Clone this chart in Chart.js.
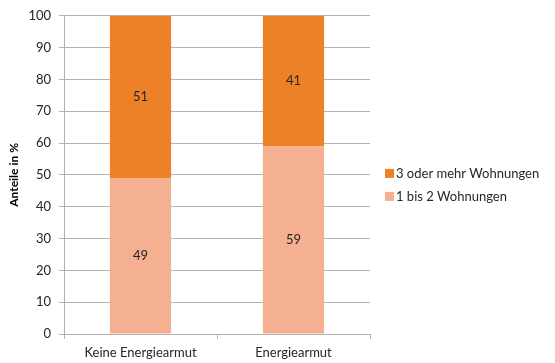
<!DOCTYPE html>
<html>
<head>
<meta charset="utf-8">
<script src="https://cdn.jsdelivr.net/npm/chart.js@4/dist/chart.umd.min.js"></script>
<style>
  html, body { margin: 0; padding: 0; background: #fff; }
  #wrap { width: 555px; height: 363px; }
</style>
</head>
<body>
<div id="wrap"><canvas id="chart" width="555" height="363"></canvas></div>
<script>
// data
const categories = ["Keine Energiearmut", "Energiearmut"];
const smallHouses = [49, 59];   // 1 bis 2 Wohnungen
const bigHouses = [51, 41];     // 3 oder mehr Wohnungen
const yTicks = [0, 10, 20, 30, 40, 50, 60, 70, 80, 90, 100];

const FONT = "Lato, 'Open Sans', sans-serif";
const gridColor = "#b3b3b3";
const textColor = "#262626";

// write the value in the middle of each bar segment
const valueLabels = {
  id: "valueLabels",
  afterDatasetsDraw(chart) {
    const ctx = chart.ctx;
    ctx.save();
    ctx.font = "13px " + FONT;
    ctx.fillStyle = textColor;
    ctx.textAlign = "center";
    ctx.textBaseline = "middle";
    chart.data.datasets.forEach((ds, i) => {
      chart.getDatasetMeta(i).data.forEach((bar, j) => {
        ctx.fillText(ds.data[j], bar.x, (bar.y + bar.base) / 2);
      });
    });
    ctx.restore();
  }
};

// legend on the right, top series first, like the office chart
const sideLegend = {
  id: "sideLegend",
  afterDraw(chart) {
    const ctx = chart.ctx;
    const area = chart.chartArea;
    const x = area.right + 15;
    let y = (area.top + area.bottom) / 2 - 1;
    ctx.save();
    ctx.font = "13px " + FONT;
    ctx.textBaseline = "middle";
    ctx.textAlign = "left";
    chart.data.datasets.slice().reverse().forEach(ds => {
      ctx.fillStyle = ds.backgroundColor;
      ctx.fillRect(x, y - 5, 9, 9);
      ctx.fillStyle = textColor;
      ctx.fillText(ds.label, x + 11, y);
      y += 23;
    });
    ctx.restore();
  }
};

new Chart(document.getElementById("chart"), {
  type: "bar",
  data: {
    labels: categories,
    datasets: [
      { label: "1 bis 2 Wohnungen", data: smallHouses, backgroundColor: "#f4b090" },
      { label: "3 oder mehr Wohnungen", data: bigHouses, backgroundColor: "#ed8128" }
    ]
  },
  options: {
    responsive: false,
    animation: false,
    layout: { padding: { top: 13, right: 185, bottom: 0, left: 7 } },
    datasets: { bar: { categoryPercentage: 0.4, barPercentage: 1 } },
    plugins: {
      legend: { display: false },
      tooltip: { enabled: false }
    },
    scales: {
      x: {
        stacked: true,
        afterFit(axis) { axis.height = 29; },
        grid: { display: true, drawOnChartArea: false, drawTicks: true, tickLength: 5, color: gridColor },
        border: { color: gridColor },
        ticks: { color: textColor, font: { family: FONT, size: 13 }, padding: 6 }
      },
      y: {
        stacked: true,
        min: 0, max: 100,
        afterBuildTicks(axis) { axis.ticks = yTicks.map(v => ({ value: v })); },
        afterFit(axis) { axis.width = 57; },
        grid: { color: gridColor, tickLength: 5 },
        border: { color: gridColor },
        ticks: { color: textColor, font: { family: FONT, size: 13 }, padding: 8 },
        title: {
          display: true,
          text: "Anteile in %",
          color: "#000",
          font: { family: FONT, size: 12, weight: "bold" },
          padding: 0
        }
      }
    }
  },
  plugins: [valueLabels, sideLegend]
});
</script>
</body>
</html>
